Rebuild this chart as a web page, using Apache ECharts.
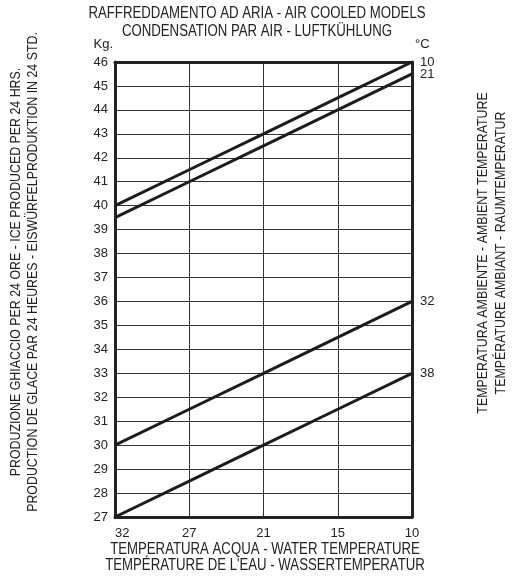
<!DOCTYPE html>
<html>
<head>
<meta charset="utf-8">
<script src="https://cdn.jsdelivr.net/npm/echarts@6/dist/echarts.min.js"></script>
<style>
html,body{margin:0;padding:0;background:#fff;}
#chart{width:528px;height:582px;}
</style>
</head>
<body>
<div id="chart"></div>
<script>
// Water temperature categories (°C), left to right
var waterTemps = ['32', '27', '21', '15', '10'];
// Ice production (Kg / 24h) per ambient temperature
var amb10 = [40, 41.5, 43, 44.5, 46];
var amb21 = [39.5, 41, 42.5, 44, 45.5];
var amb32 = [30, 31.5, 33, 34.5, 36];
var amb38 = [27, 28.5, 30, 31.5, 33];
var ambientNames = ['10', '21', '32', '38'];
var yMin = 27, yMax = 46, yStep = 1;

var FONT = '"Liberation Sans", Arial, sans-serif';
var INK = '#222';
var SX = 0.825;

var chart = echarts.init(document.getElementById('chart'));
var seriesData = [amb10, amb21, amb32, amb38];
var series = seriesData.map(function (d, i) {
  return {
    name: ambientNames[i],
    type: 'line',
    data: d,
    symbol: 'none',
    lineStyle: { color: '#1c1c1c', width: 3 },
    endLabel: {
      show: true,
      formatter: '{a}',
      distance: 8,
      color: INK,
      fontFamily: FONT,
      fontSize: 13
    },
    z: 5
  };
});

function label(text, x, y, size, rot) {
  return {
    type: 'text', x: x, y: y, rotation: rot || 0, scaleX: SX,
    style: { text: text, fill: INK, font: size + 'px ' + FONT, textAlign: 'center', textVerticalAlign: 'middle' }
  };
}

chart.setOption({
  backgroundColor: '#fff',
  animation: false,
  grid: { left: 115, right: 116, top: 62, bottom: 65, containLabel: false },
  xAxis: [{
    type: 'category',
    data: waterTemps,
    boundaryGap: false,
    axisLine: { show: true, lineStyle: { color: INK, width: 3 } },
    axisTick: { show: false },
    axisLabel: { color: INK, fontFamily: FONT, fontSize: 13, margin: 10, alignMinLabel: 'left' },
    splitLine: { show: true, lineStyle: { color: '#333', width: 1 } }
  }, {
    type: 'category',
    data: waterTemps,
    boundaryGap: false,
    position: 'top',
    axisLine: { show: true, lineStyle: { color: INK, width: 3 } },
    axisTick: { show: false },
    axisLabel: { show: false },
    splitLine: { show: false }
  }],
  yAxis: [{
    type: 'value',
    min: yMin, max: yMax, interval: yStep,
    axisLine: { show: true, lineStyle: { color: INK, width: 3 } },
    axisTick: { show: false },
    axisLabel: { color: INK, fontFamily: FONT, fontSize: 13, margin: 7 },
    splitLine: { show: true, lineStyle: { color: '#333', width: 1 } }
  }, {
    type: 'value',
    min: yMin, max: yMax, interval: yStep,
    position: 'right',
    axisLine: { show: true, lineStyle: { color: INK, width: 3 } },
    axisTick: { show: false },
    axisLabel: { show: false },
    splitLine: { show: false }
  }],
  graphic: [
    label('RAFFREDDAMENTO AD ARIA - AIR COOLED MODELS', 257, 14, 16),
    label('CONDENSATION PAR AIR - LUFTKÜHLUNG', 257, 32, 16),
    { type: 'text', x: 113, y: 44, style: { text: 'Kg.', fill: INK, font: '13px ' + FONT, textAlign: 'right', textVerticalAlign: 'middle' } },
    { type: 'text', x: 415, y: 44, style: { text: '°C', fill: INK, font: '13px ' + FONT, textAlign: 'left', textVerticalAlign: 'middle' } },
    label('TEMPERATURA ACQUA - WATER TEMPERATURE', 265, 550, 16),
    label('TEMPÉRATURE DE L\'EAU - WASSERTEMPERATUR', 265, 566, 16),
    label('PRODUZIONE GHIACCIO PER 24 ORE - ICE PRODUCED PER 24 HRS.', 16, 272, 15, Math.PI / 2),
    label('PRODUCTION DE GLACE PAR 24 HEURES - EISWÜRFELPRODUKTION IN 24 STD.', 33, 272, 15, Math.PI / 2),
    label('TEMPERATURA AMBIENTE - AMBIENT TEMPERATURE', 483, 253, 15, Math.PI / 2),
    label('TEMPÉRATURE AMBIANT - RAUMTEMPERATUR', 501, 253, 15, Math.PI / 2)
  ],
  series: series
});
</script>
</body>
</html>
